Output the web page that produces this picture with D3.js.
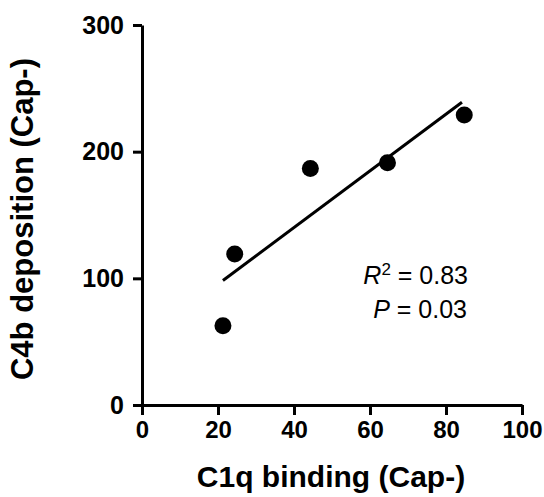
<!DOCTYPE html>
<html>
<head>
<meta charset="utf-8">
<script src="https://cdn.jsdelivr.net/npm/d3@7"></script>
<style>
  html, body { margin: 0; padding: 0; background: #fff; }
  svg { display: block; font-family: "Liberation Sans", Arial, sans-serif; }
</style>
</head>
<body>
<svg id="chart" width="544" height="497"></svg>
<script>
// Data
const c1qBinding = [21.3, 24.4, 44.3, 64.6, 84.8];
const c4bDeposition = [62.6, 119.2, 186.8, 191.2, 228.9];
const xTicks = [0, 20, 40, 60, 80, 100];
const yTicks = [0, 100, 200, 300];
const xLabel = "C1q binding (Cap-)";
const yLabel = "C4b deposition (Cap-)";
const r2Text = "0.83";
const pText = "0.03";

const svg = d3.select("#chart");
const x = d3.scaleLinear().domain([0, 100]).range([142, 522]);
const y = d3.scaleLinear().domain([0, 300]).range([405, 25]);

const axisStyle = size => g => {
  g.selectAll("path.domain").attr("stroke", "#000").attr("stroke-width", 3);
  g.selectAll(".tick line").attr("stroke", "#000").attr("stroke-width", 3);
  g.selectAll(".tick text").attr("fill", "#000")
    .style("font-size", size + "px").style("font-weight", "bold")
    .style("font-family", "'Liberation Sans', Arial, sans-serif");
};

svg.append("g")
  .attr("transform", `translate(0,${y(0)})`)
  .call(d3.axisBottom(x).tickValues(xTicks).tickSize(10).tickSizeOuter(0).tickPadding(6))
  .call(axisStyle(24));

svg.append("g")
  .attr("transform", `translate(${x(0)},0)`)
  .call(d3.axisLeft(y).tickValues(yTicks).tickSize(9).tickSizeOuter(0).tickPadding(9))
  .call(axisStyle(25));

// Linear regression computed from the data
const n = c1qBinding.length;
const mx = d3.mean(c1qBinding), my = d3.mean(c4bDeposition);
let sxy = 0, sxx = 0;
for (let i = 0; i < n; i++) {
  sxy += (c1qBinding[i] - mx) * (c4bDeposition[i] - my);
  sxx += (c1qBinding[i] - mx) ** 2;
}
const slope = sxy / sxx, intercept = my - slope * mx;
const [x0, x1] = d3.extent(c1qBinding);
svg.append("line")
  .attr("x1", x(x0)).attr("y1", y(intercept + slope * x0))
  .attr("x2", x(x1 - 0.6)).attr("y2", y(intercept + slope * (x1 - 0.6)))
  .attr("stroke", "#000").attr("stroke-width", 3);

// Points
svg.append("g").selectAll("circle")
  .data(c1qBinding.map((v, i) => [v, c4bDeposition[i]]))
  .join("circle")
  .attr("cx", d => x(d[0])).attr("cy", d => y(d[1]))
  .attr("r", 8.5).attr("fill", "#000");

// Axis titles
svg.append("text")
  .attr("x", (x(0) + x(100)) / 2 - 1).attr("y", 487)
  .attr("text-anchor", "middle")
  .style("font-size", "30px").style("font-weight", "bold")
  .text(xLabel);

svg.append("text")
  .attr("transform", "translate(33,219) rotate(-90)")
  .attr("text-anchor", "middle")
  .style("font-size", "31px").style("font-weight", "bold")
  .text(yLabel);

// Annotation
const ann1 = svg.append("text").attr("x", 468).attr("y", 284)
  .attr("text-anchor", "end").style("font-size", "25px");
ann1.append("tspan").style("font-style", "italic").text("R");
ann1.append("tspan").attr("dy", -9).style("font-size", "17px").text("2");
ann1.append("tspan").attr("dy", 9).text(" = " + r2Text);

const ann2 = svg.append("text").attr("x", 467).attr("y", 318)
  .attr("text-anchor", "end").style("font-size", "25px");
ann2.append("tspan").style("font-style", "italic").text("P");
ann2.append("tspan").text(" = " + pText);
</script>
</body>
</html>
